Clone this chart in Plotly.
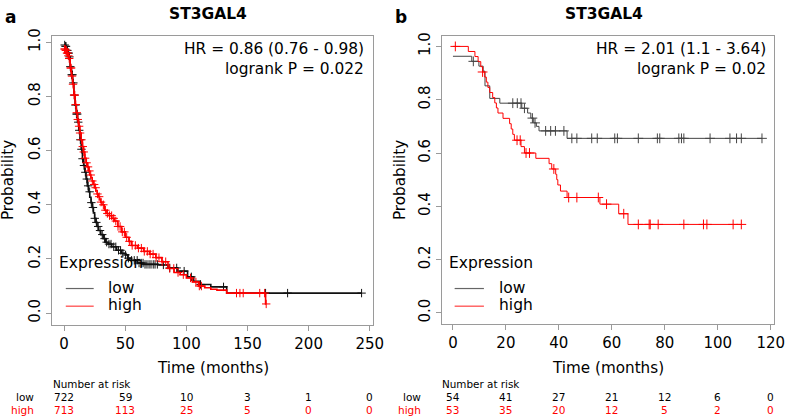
import numpy as np
import plotly.graph_objects as go

W, H = 796, 418
FONT = "DejaVu Sans"

# ---------------- Panel a data ----------------
a_low_t = [0, 1, 2, 3, 4, 5, 6, 7, 8, 9, 10, 11, 12, 13, 14, 15, 16, 17, 18, 19, 20,
           21, 22, 23, 24, 25, 26, 27, 28, 30, 32, 34, 36, 39, 43, 47, 50, 52, 55, 60,
           65, 77, 85, 93, 101, 106, 111, 120, 133, 243.3]
a_low_s = [0.99, 0.985, 0.97, 0.96, 0.946, 0.91, 0.88, 0.85, 0.805, 0.768, 0.735, 0.705,
           0.675, 0.64, 0.605, 0.57, 0.545, 0.52, 0.495, 0.47, 0.448, 0.428, 0.408, 0.39,
           0.37, 0.35, 0.335, 0.32, 0.305, 0.29, 0.275, 0.262, 0.255, 0.245, 0.232, 0.221,
           0.215, 0.203, 0.195, 0.185, 0.18, 0.178, 0.167, 0.155, 0.134, 0.118, 0.106,
           0.097, 0.074, 0.074]
a_high_t = [0, 1, 2, 3, 4, 5, 6, 7, 8, 9, 10, 11, 12, 13, 14, 15, 16, 17, 18, 19, 20,
            21, 22, 23, 24, 25, 26, 27, 28, 29, 30, 31, 33, 35, 37, 39, 41, 44, 47, 50,
            53, 55, 60, 65, 70, 75, 80, 85, 90, 95, 100, 105, 110, 115, 120, 125, 133,
            164.8, 165.3]
a_high_s = [0.975, 0.97, 0.96, 0.95, 0.94, 0.905, 0.875, 0.845, 0.805, 0.77, 0.74, 0.715,
            0.69, 0.665, 0.64, 0.615, 0.595, 0.572, 0.555, 0.54, 0.525, 0.51, 0.50, 0.488,
            0.475, 0.463, 0.452, 0.44, 0.43, 0.42, 0.41, 0.40, 0.38, 0.368, 0.36, 0.35,
            0.34, 0.32, 0.30, 0.28, 0.265, 0.25, 0.24, 0.228, 0.218, 0.205, 0.19, 0.165,
            0.15, 0.142, 0.13, 0.115, 0.10, 0.094, 0.088, 0.085, 0.074, 0.034, 0.034]
a_low_cens = [0.5, 1.2, 1.6, 2.2, 2.7, 3.3, 3.8, 4.4, 5.1, 6.2, 6.9, 7.6, 8.4, 9.3, 10.1,
              10.8, 11.6, 12.4, 13.3, 14.2, 15.1, 16.3, 17.4, 18.6, 19.7, 20.9, 22.3, 23.6,
              25.1, 26.4, 27.9, 29.4, 31.2, 33.1, 34.8, 36.7, 38.4, 40.6, 42.3, 44.5, 46.2,
              48.1, 50.3, 52.6, 55.2, 57.4, 59.8, 61.3, 63.1, 64.6, 66.2, 67.8, 69.5, 71.1,
              72.9, 74.4, 76.3, 81.2, 86.4, 92.1, 98.2, 104.1, 111.6, 130.4, 164.8, 182.8,
              243.3]
a_high_cens = [0.3, 0.8, 1.4, 1.9, 2.4, 2.9, 3.5, 4.2, 5.3, 5.8, 6.5, 7.3, 8.2, 8.8, 9.6,
               10.4, 11.2, 12.3, 13.1, 14.2, 15.3, 16.1, 17.2, 18.4, 19.6, 20.7, 21.8, 23.1,
               24.6, 25.8, 27.3, 28.7, 30.2, 32.1, 33.8, 35.4, 37.2, 38.9, 40.6, 42.3, 44.1,
               45.8, 47.6, 49.3, 51.2, 53.4, 55.7, 58.3, 60.8, 63.2, 65.6, 68.1, 70.4, 72.8,
               75.3, 77.6, 80.2, 83.1, 86.4, 89.7, 93.2, 97.5, 103.4, 107.8, 110.6, 112.3,
               141.0, 143.8, 146.5, 160.0, 164.0, 165.3]

# ---------------- Panel b data ----------------
b_low_t = [0, 7.1, 9.8, 11.4, 12.1, 13.9, 17.7, 26.0, 28.2, 29.4, 30.5, 31.5, 32.5, 43.1, 116.7]
b_low_s = [0.963, 0.944, 0.926, 0.907, 0.852, 0.805, 0.787, 0.768, 0.75, 0.731, 0.713,
           0.70, 0.683, 0.655, 0.655]
b_high_t = [0, 5.8, 8.3, 9.5, 10.5, 11.2, 12.0, 12.6, 13.2, 13.9, 15.0, 15.8, 16.4, 17.0,
            18.9, 21.4, 22.0, 22.6, 23.2, 25.7, 27.0, 31.3, 36.3, 37.3, 38.8, 39.2, 39.6,
            40.6, 43.1, 55.5, 62.6, 66.1, 108.9]
b_high_s = [1.0, 0.981, 0.962, 0.943, 0.924, 0.904, 0.885, 0.866, 0.846, 0.827, 0.808,
            0.788, 0.769, 0.75, 0.73, 0.71, 0.69, 0.67, 0.648, 0.624, 0.60, 0.58, 0.56,
            0.54, 0.52, 0.50, 0.48, 0.457, 0.433, 0.408, 0.372, 0.332, 0.332]
b_low_cens = [7.7, 22.6, 24.3, 25.7, 27.0, 30.0, 31.0, 35.0, 36.9, 38.7, 41.9, 44.9, 46.8,
              52.4, 54.5, 61.1, 62.1, 70.0, 77.2, 78.1, 85.3, 86.3, 87.2, 97.1, 104.6,
              107.1, 108.9, 116.7]
b_high_cens = [0.9, 11.2, 24.2, 25.4, 27.6, 28.9, 38.1, 43.7, 46.8, 54.9, 58.0, 64.5, 70.0,
               74.1, 74.5, 77.5, 87.2, 94.6, 95.9, 105.8, 108.9]

# Number at risk
a_risk_times = [0, 50, 100, 150, 200, 250]
a_risk_low = [722, 59, 10, 3, 1, 0]
a_risk_high = [713, 113, 25, 5, 0, 0]
b_risk_times = [0, 20, 40, 60, 80, 100, 120]
b_risk_low = [54, 41, 27, 21, 12, 6, 0]
b_risk_high = [53, 35, 20, 12, 5, 2, 0]

titles = ["ST3GAL4", "ST3GAL4"]
hr_texts = ["HR = 0.86 (0.76 - 0.98)", "HR = 2.01 (1.1 - 3.64)"]
p_texts = ["logrank P = 0.022", "logrank P = 0.02"]


def step_at(ts, ss, t):
    ts = np.asarray(ts)
    ss = np.asarray(ss)
    idx = np.searchsorted(ts, t, side="right") - 1
    return ss[np.clip(idx, 0, len(ss) - 1)]


def fx(px):
    return px / W


def fy(py):
    return 1 - py / H


fig = go.Figure()

RED = "#ff0000"

panels = [
    dict(xa="x", ya="y", low=(a_low_t, a_low_s, a_low_cens), high=(a_high_t, a_high_s, a_high_cens),
         lowcol="#111111", lw=1.6, ms=6),
    dict(xa="x2", ya="y2", low=(b_low_t, b_low_s, b_low_cens), high=(b_high_t, b_high_s, b_high_cens),
         lowcol="#444444", lw=1.0, ms=7),
]

for p in panels:
    for key, col in (("low", p["lowcol"]), ("high", RED)):
        t, s, c = p[key]
        fig.add_trace(go.Scatter(x=t, y=s, mode="lines", line=dict(color=col, width=p["lw"], shape="hv"),
                                 xaxis=p["xa"], yaxis=p["ya"], showlegend=False, hoverinfo="skip"))
        fig.add_trace(go.Scatter(x=c, y=step_at(t, s, c), mode="markers",
                                 marker=dict(symbol="cross-thin", size=p["ms"],
                                             line=dict(color=col, width=1)),
                                 xaxis=p["xa"], yaxis=p["ya"], showlegend=False, hoverinfo="skip"))

axis_common = dict(showline=True, mirror=True, linecolor="#9a9a9a", linewidth=1,
                   ticks="outside", ticklen=5, tickcolor="#9a9a9a", showgrid=False,
                   zeroline=False, tickfont=dict(family=FONT, size=15, color="black"))

fig.update_layout(
    width=W, height=H, margin=dict(l=0, r=0, t=0, b=0),
    paper_bgcolor="white", plot_bgcolor="white", showlegend=False,
    font=dict(family=FONT, color="black"),
    xaxis=dict(domain=[fx(52.7), fx(378.3)], range=[-9.9, 252.7],
               tickvals=[0, 50, 100, 150, 200, 250], **axis_common),
    yaxis=dict(domain=[fy(322.7), fy(28.3)], range=[-0.042, 1.024],
               tickvals=[0, 0.2, 0.4, 0.6, 0.8, 1.0], tickformat=".1f", tickangle=-90,
               **axis_common),
    xaxis2=dict(domain=[fx(447.7), fx(785)], range=[-4.32, 121.3], anchor="y2",
                tickvals=[0, 20, 40, 60, 80, 100, 120], **axis_common),
    yaxis2=dict(domain=[fy(321.7), fy(28.3)], range=[-0.04, 1.04], anchor="x2",
                tickvals=[0, 0.2, 0.4, 0.6, 0.8, 1.0], tickformat=".1f", tickangle=-90,
                **axis_common),
)

ann = []
shapes = []


def txt(x, y, s, size, xanchor="center", color="black", bold=False, xref="paper", angle=0):
    ann.append(dict(x=x, y=y, xref=xref, yref="paper", text=("<b>%s</b>" % s) if bold else s,
                    showarrow=False, xanchor=xanchor, yanchor="middle", textangle=angle,
                    borderpad=0, font=dict(family=FONT, size=size, color=color)))


# panel letters and titles
txt(fx(11), fy(9), "a", 17, bold=True)
txt(fx(407), fy(9), "b", 17, bold=True)
txt(fx(210.8), fy(6.5), titles[0], 15.5, bold=True)
txt(fx(612.5), fy(6.5), titles[1], 15.5, bold=True)

# HR / logrank
for xr, hr, pv in ((370, hr_texts[0], p_texts[0]), (777.7, hr_texts[1], p_texts[1])):
    txt(fx(xr), fy(42), hr, 15.4, xanchor="right")
    txt(fx(xr), fy(62), pv, 15.4, xanchor="right")

# axis titles
txt(fx(215.5), fy(366.7), "Time (months)", 15.2)
txt(fx(616.3), fy(366.7), "Time (months)", 15.2)
txt(fx(8), fy(175.5), "Probability", 15.2, angle=-90)
txt(fx(405), fy(175), "Probability", 15.2, angle=-90)

# legends
for ex, lx0, lx1, tx in ((59.3, 66.7, 95, 109), (454, 461, 490.7, 505)):
    txt(fx(ex), fy(260), "Expression", 15.5, xanchor="left")
    txt(fx(tx), fy(285), "low", 15.5, xanchor="left")
    txt(fx(tx), fy(303), "high", 15.5, xanchor="left")
    shapes.append(dict(type="line", xref="paper", yref="paper", x0=fx(lx0), x1=fx(lx1),
                       y0=fy(286), y1=fy(286), line=dict(color="#666666", width=1.2)))
    shapes.append(dict(type="line", xref="paper", yref="paper", x0=fx(lx0), x1=fx(lx1),
                       y0=fy(304), y1=fy(304), line=dict(color="#ff4040", width=1.2)))

# number at risk tables
for xref, nx, lab_x, times, lows, highs in (("x", 52.7, 35, a_risk_times, a_risk_low, a_risk_high),
                                            ("x2", 446.7, 428.3, b_risk_times, b_risk_low, b_risk_high)):
    txt(fx(nx), fy(383.3), "Number at risk", 10.4, xanchor="left")
    txt(fx(lab_x), fy(396.7), "low", 10.5, xanchor="right")
    txt(fx(lab_x), fy(410), "high", 10.5, xanchor="right", color=RED)
    for t, lo, hi in zip(times, lows, highs):
        txt(t, fy(396.7), str(lo), 10.5, xref=xref)
        txt(t, fy(410), str(hi), 10.5, xref=xref, color=RED)

fig.update_layout(annotations=ann, shapes=shapes)
fig.write_html("out.html", config={"displayModeBar": False},
               post_script="document.body.style.margin='0';document.body.style.overflow='hidden';")
